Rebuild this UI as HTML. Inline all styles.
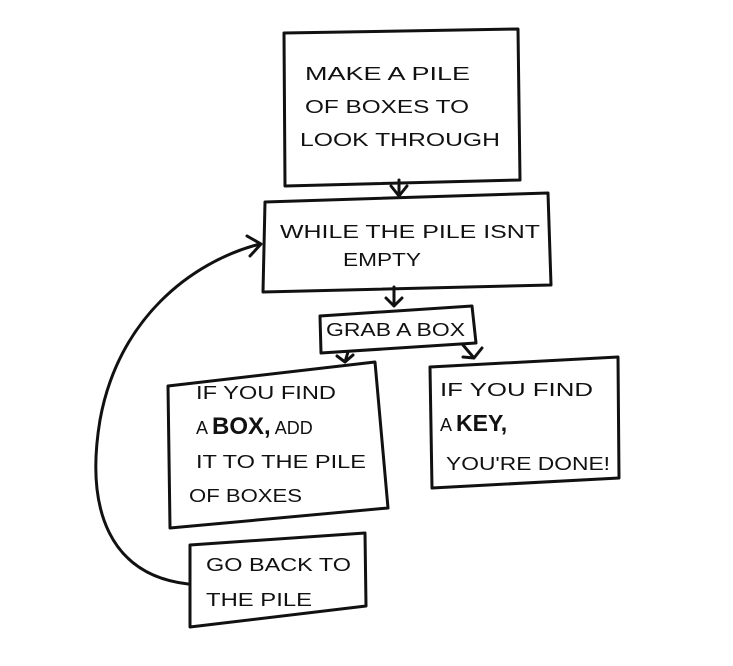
<!DOCTYPE html>
<html><head><style>
body{margin:0;background:#fff}
svg{display:block}
text{font-family:"Liberation Sans",sans-serif;fill:#111;font-size:18px}
</style></head><body>
<svg width="733" height="666" viewBox="0 0 733 666">
<g fill="none" stroke="#111" stroke-width="3" stroke-linejoin="round" stroke-linecap="round">
<polygon points="284,33 518,29 520,180 285,186"/>
<polygon points="265,202 548,193 551,285 263,292"/>
<polygon points="320,316 472,306 476,343 321,353"/>
<polygon points="168,386 375,362 388,508 170,528"/>
<polygon points="430,367 618,357 619,478 432,488"/>
<polygon points="190,545 365,533 366,606 190,627"/>
<path d="M399,180 L399,196 M391,186 L399,196 L407,186"/>
<path d="M394,287 L394,306 M386,298 L394,306 L402,298"/>
<path d="M348,352 L345,362 M337,356 L345,362 L353,355"/>
<path d="M463,345 L474,358 M463,357 L474,358 L482,348"/>
<path d="M188,584 C110,575 85,510 100,420 C118,320 190,262 260,244"/>
<path d="M247,236 L261,244 L250,256"/>
</g>
<text x="305" y="80" textLength="165" lengthAdjust="spacingAndGlyphs">MAKE A PILE</text>
<text x="305" y="113" textLength="164" lengthAdjust="spacingAndGlyphs">OF BOXES TO</text>
<text x="300" y="146" textLength="200" lengthAdjust="spacingAndGlyphs">LOOK THROUGH</text>
<text x="280" y="238" font-size="16" textLength="260" lengthAdjust="spacingAndGlyphs">WHILE THE PILE ISNT</text>
<text x="343" y="266" font-size="16" textLength="78" lengthAdjust="spacingAndGlyphs">EMPTY</text>
<text x="326" y="336" font-size="16" textLength="139" lengthAdjust="spacingAndGlyphs">GRAB A BOX</text>
<text x="196" y="399" font-size="17" textLength="140" lengthAdjust="spacingAndGlyphs">IF YOU FIND</text>
<text x="196" y="434" font-size="17">A <tspan font-weight="bold" font-size="24">BOX,</tspan> ADD</text>
<text x="196" y="468" font-size="17" textLength="170" lengthAdjust="spacingAndGlyphs">IT TO THE PILE</text>
<text x="189" y="502" font-size="16" textLength="113" lengthAdjust="spacingAndGlyphs">OF BOXES</text>
<text x="440" y="396" font-size="17" textLength="153" lengthAdjust="spacingAndGlyphs">IF YOU FIND</text>
<text x="440" y="431" font-size="17">A <tspan font-weight="bold" font-size="23">KEY,</tspan></text>
<text x="446" y="470" font-size="17" textLength="164" lengthAdjust="spacingAndGlyphs">YOU'RE DONE!</text>
<text x="206" y="571" font-size="17" textLength="145" lengthAdjust="spacingAndGlyphs">GO BACK TO</text>
<text x="206" y="606" font-size="17" textLength="106" lengthAdjust="spacingAndGlyphs">THE PILE</text>
</svg>
</body></html>
